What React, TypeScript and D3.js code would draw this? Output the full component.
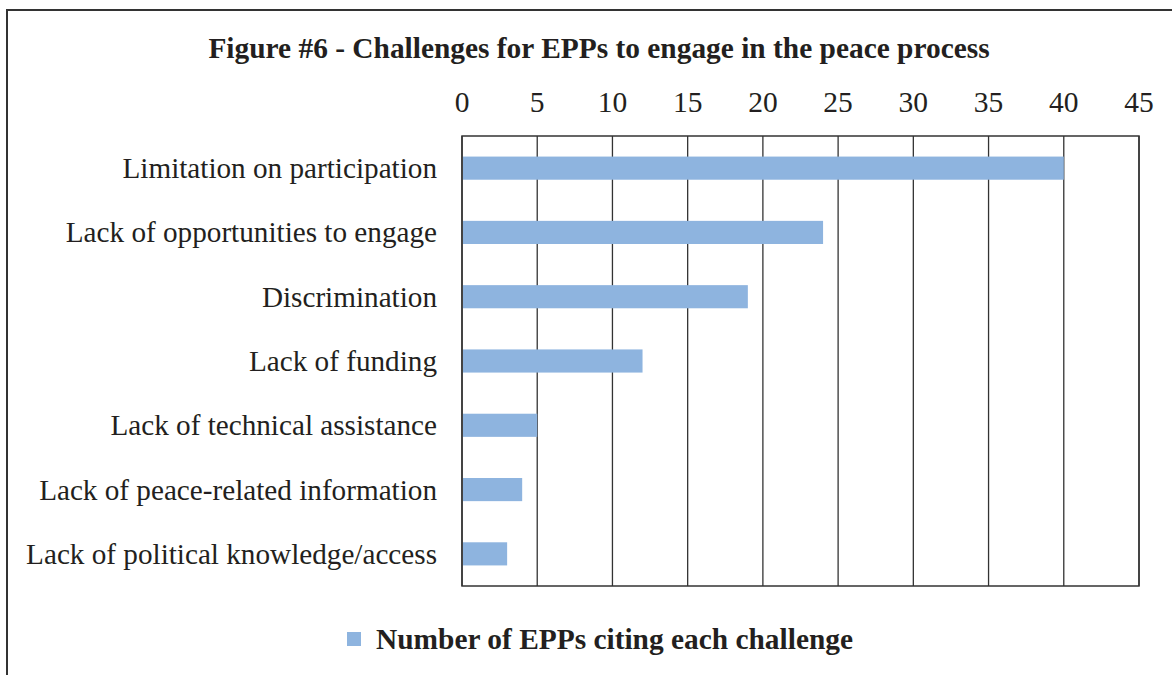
import { useEffect, useRef } from 'react';
import * as d3 from 'd3';

const categories = [
    'Limitation on participation',
    'Lack of opportunities to engage',
    'Discrimination',
    'Lack of funding',
    'Lack of technical assistance',
    'Lack of peace-related information',
    'Lack of political knowledge/access',
];
const values = [40, 24, 19, 12, 5, 4, 3];
const ticks = [0, 5, 10, 15, 20, 25, 30, 35, 40, 45];
const seriesName = 'Number of EPPs citing each challenge';
const title = 'Figure #6 - Challenges for EPPs to engage in the peace process';

function App() {
    const chartRef = useRef(null);

    useEffect(() => {
        const svg = d3.select(chartRef.current);
        svg.selectAll('*').remove();
        const font = '"Liberation Serif", "Times New Roman", serif';
        const barColor = '#8eb4df';

        const margin = { top: 136, left: 462, right: 1139, bottom: 586 };

        // outer frame
        svg.append('rect')
            .attr('x', 7).attr('y', 10)
            .attr('width', 1180).attr('height', 700)
            .attr('fill', 'none').attr('stroke', '#333').attr('stroke-width', 2);

        svg.append('text')
            .attr('x', 599).attr('y', 58)
            .attr('text-anchor', 'middle')
            .attr('font-family', font).attr('font-weight', 'bold').attr('font-size', 29.4)
            .attr('fill', '#231f20')
            .text(title);

        const x = d3.scaleLinear().domain([0, 45]).range([margin.left, margin.right]);
        const y = d3.scaleBand().domain(categories).range([margin.top, margin.bottom]).paddingInner(0.64).paddingOuter(0.32);

        // grid lines
        svg.append('g')
            .selectAll('line')
            .data(ticks)
            .enter()
            .append('line')
            .attr('x1', (d) => x(d)).attr('x2', (d) => x(d))
            .attr('y1', margin.top).attr('y2', margin.bottom)
            .attr('stroke', '#333').attr('stroke-width', 1.3);

        svg.append('rect')
            .attr('x', margin.left).attr('y', margin.top)
            .attr('width', margin.right - margin.left).attr('height', margin.bottom - margin.top)
            .attr('fill', 'none').attr('stroke', '#333').attr('stroke-width', 1.5);

        svg.append('g')
            .selectAll('rect')
            .data(values)
            .enter()
            .append('rect')
            .attr('x', x(0) + 1)
            .attr('y', (_d, i) => y(categories[i]) as number)
            .attr('width', (d) => x(d) - x(0) - 1)
            .attr('height', y.bandwidth())
            .attr('fill', barColor);

        // top axis labels
        svg.append('g')
            .selectAll('text')
            .data(ticks)
            .enter()
            .append('text')
            .attr('x', (d) => x(d)).attr('y', 112)
            .attr('text-anchor', 'middle')
            .attr('font-family', font).attr('font-size', 29.5).attr('fill', '#231f20')
            .text((d) => d);

        svg.append('g')
            .selectAll('text')
            .data(categories)
            .enter()
            .append('text')
            .attr('x', 437)
            .attr('y', (d) => (y(d) as number) + y.bandwidth() / 2 + 10)
            .attr('text-anchor', 'end')
            .attr('font-family', font).attr('font-size', 29.2).attr('fill', '#231f20')
            .text((d) => d);

        // legend
        svg.append('rect')
            .attr('x', 347).attr('y', 632).attr('width', 14).attr('height', 14)
            .attr('fill', barColor);
        svg.append('text')
            .attr('x', 376).attr('y', 649)
            .attr('font-family', font).attr('font-weight', 'bold').attr('font-size', 29.4)
            .attr('fill', '#231f20')
            .text(seriesName);
    }, []);

    return (
        <svg ref={chartRef} width="1172" height="675"
            style={{ position: 'absolute', left: 0, top: 0, background: '#fff' }}></svg>
    );
}

export default App;
